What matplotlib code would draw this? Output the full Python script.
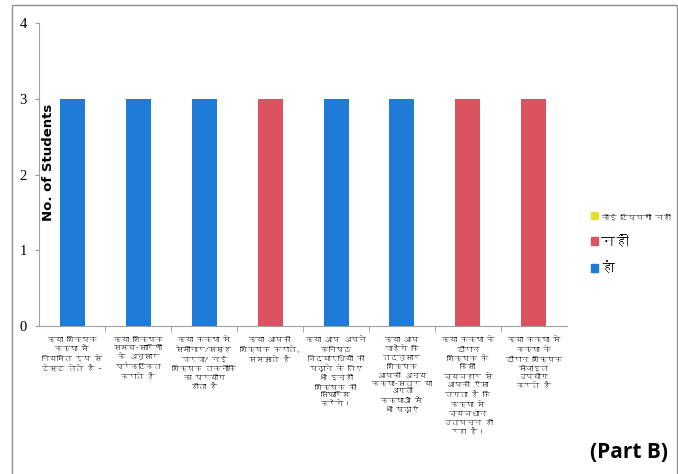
import matplotlib
matplotlib.use("Agg")
import matplotlib.pyplot as plt
from matplotlib import font_manager
from matplotlib.ft2font import FT2Font
from matplotlib.patches import Rectangle, Patch
import numpy as np

# Questions (x tick labels), wrapped short so they fit under each bar
questions = [
    "क्या शिक्षक\nकक्षा में\nनियमित रूप से\nटेस्ट लेते है –",
    "क्या शिक्षक\nसमय-सारिणी\nके अनुसार\nप्रेक्टिकल\nकराते है",
    "क्या कक्षा मे\nसेमीनार/समूह\nचर्चा/ नई\nशिक्षक तकनीकि\nका प्रयोग\nहोता है",
    "क्या आपको\nशिक्षक कराते,\nसमझाते है",
    "क्या आप अपने\nकनिष्ठ\nविद्यार्थियों को\nपढ़ाने के लिए\nभी इन्हीं\nशिक्षक की\nसिफारिश\nकरेंगे।",
    "क्या आप\nचाहेंगे कि\nतदनुसार\nशिक्षक\nआपको अन्य\nकक्षा-सत्र या\nअगली\nकक्षाओं में\nभी पढ़ाएं",
    "क्या कक्षा के\nदौरान\nशिक्षक के\nकिसी\nव्यवहार से\nआपको ऐसा\nलगता है कि\nकक्षा मे\nव्यवधान\nउत्पन्न हो\nरहा है।",
    "क्या कक्षा मे\nकक्षा के\nदौरान शिक्षक\nमोबाइल\nउपयोग\nकरते है",
]

series_names = ["हां", "नहीं", "कोई टिप्पणी नहीं"]
yes_counts = [3, 3, 3, 0, 3, 3, 0, 0]
no_counts = [0, 0, 0, 3, 0, 0, 3, 3]
no_comment_counts = [0, 0, 0, 0, 0, 0, 0, 0]

colors = ["#1F7BD8", "#DB535E", "#E3DF2C"]


def find_devanagari_font():
    """Return the name of an installed font that has Devanagari glyphs, if any."""
    seen = set()
    for entry in font_manager.fontManager.ttflist:
        if entry.fname in seen:
            continue
        seen.add(entry.fname)
        try:
            cmap = FT2Font(entry.fname).get_charmap()
        except Exception:
            continue
        if 0x0915 in cmap:
            return entry.name
    return None


deva = find_devanagari_font()
families = ([deva] if deva else []) + ["DejaVu Sans"]
plt.rcParams["font.family"] = families

fig = plt.figure(figsize=(6.78, 4.74), dpi=100)
ax = fig.add_axes([0.058, 0.312, 0.778, 0.639])

x = np.arange(len(questions))
width = 0.38
bottom = np.zeros(len(questions))
for name, vals, col in zip(series_names, [yes_counts, no_counts, no_comment_counts], colors):
    ax.bar(x, vals, width, bottom=bottom, color=col, label=name)
    bottom += np.array(vals)

ax.set_xlim(-0.5, len(questions) - 0.5)
ax.set_ylim(0, 4)
ax.set_yticks([0, 1, 2, 3, 4])
ax.set_yticklabels(["0", "1", "2", "3", "4"], fontfamily="Liberation Serif", fontsize=10.5)
ax.tick_params(axis="y", length=3, color="#999999", pad=6)

ax.set_xticks(x)
ax.set_xticklabels(questions, fontsize=5.4, linespacing=1.4)
ax.set_xticks(np.arange(0.5, len(questions) - 0.5, 1), minor=True)
ax.tick_params(axis="x", which="major", length=0, pad=7)
ax.tick_params(axis="x", which="minor", length=4, color="#999999")

for side in ["top", "right"]:
    ax.spines[side].set_visible(False)
for side in ["left", "bottom"]:
    ax.spines[side].set_color("#A0A0A0")
    ax.spines[side].set_linewidth(0.8)

ax.text(0.017, 0.54, "No. of Students", transform=ax.transAxes, rotation=90,
        ha="center", va="center", fontsize=9.5, fontweight="bold",
        fontfamily="DejaVu Sans")

# legend: reversed order like the original
handles = [Patch(color=c) for c in colors][::-1]
labels = series_names[::-1]
leg = fig.legend(handles, labels, loc="upper left", bbox_to_anchor=(0.853, 0.58),
                 frameon=False, handlelength=0.5, handleheight=0.5,
                 handletextpad=0.2, labelspacing=1.0, fontsize=10)
leg.get_texts()[0].set_fontsize(5.6)

fig.text(0.985, 0.045, "(Part B)", ha="right", va="center", fontsize=15,
         fontweight="bold", fontfamily="Open Sans")

# outer frame around the chart
fig.patches.append(Rectangle((0.018, -0.02), 0.98, 1.01, transform=fig.transFigure,
                             fill=False, edgecolor="#909090", linewidth=1.0))

fig.savefig("out.png", dpi=100)
